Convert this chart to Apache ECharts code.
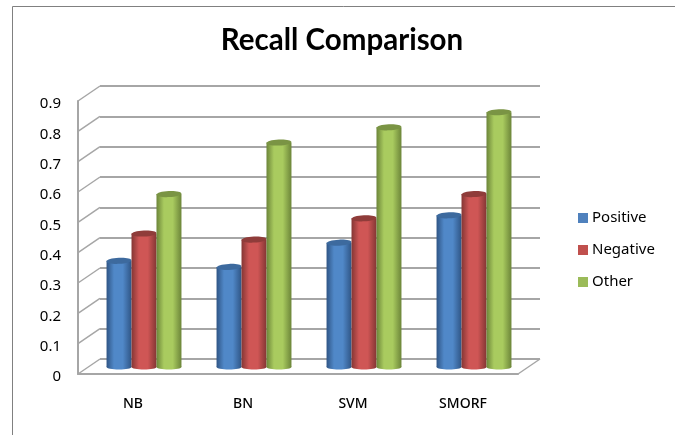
<!DOCTYPE html>
<html>
<head>
<meta charset="utf-8">
<style>
    html, body { margin: 0; padding: 0; background: #fff; }
    #chart { width: 681px; height: 435px; }
</style>
<script src="https://cdn.jsdelivr.net/npm/echarts@6/dist/echarts.min.js"></script>
</head>
<body>
<div id="chart"></div>
<script>
const categories = ['NB', 'BN', 'SVM', 'SMORF'];
const positive = [0.35, 0.33, 0.41, 0.50];
const negative = [0.44, 0.42, 0.49, 0.57];
const other = [0.57, 0.74, 0.79, 0.84];
const wallTicks = [0, 0.1, 0.2, 0.3, 0.4, 0.5, 0.6, 0.7, 0.8, 0.9];

const gridColor = '#a6a6a6';
const depthX = 22;
const depthY = 15;
const fontName = '"Noto Sans", sans-serif';

// dark edge, light middle, dark edge, and the darker lid of the cylinder
function cylinder(name, values, slot, edge, mid, lid, swatch) {
    return {
        name: name,
        type: 'custom',
        xAxisIndex: 2,
        yAxisIndex: 2,
        clip: false,
        z: 5 + slot,
        itemStyle: { color: swatch },
        encode: { x: 0, y: 1 },
        data: values.map((v, i) => [i, v]),
        renderItem: function(params, api) {
            let top = api.coord([api.value(0), api.value(1)]);
            let base = api.coord([api.value(0), 0]);
            let w = api.size([1, 0])[0] * 0.227;
            let cx = top[0] + slot * w;
            let fill = {
                type: 'linear', x: 0, y: 0, x2: 1, y2: 0,
                colorStops: [
                    { offset: 0, color: edge },
                    { offset: 0.3, color: mid },
                    { offset: 0.65, color: mid },
                    { offset: 1, color: edge }
                ]
            };
            return {
                type: 'group',
                children: [
                    { type: 'ellipse', shape: { cx: cx, cy: base[1], rx: w / 2, ry: 2.5 }, style: { fill: fill } },
                    { type: 'rect', shape: { x: cx - w / 2, y: top[1], width: w, height: base[1] - top[1] }, style: { fill: fill } },
                    { type: 'ellipse', x: cx, y: top[1], rotation: 0.05, shape: { cx: 0, cy: 0, rx: w / 2, ry: 3 }, style: { fill: lid } }
                ]
            };
        }
    };
}

let chart = echarts.init(document.getElementById('chart'));
chart.setOption({
    animation: false,
    backgroundColor: '#fff',
    title: {
        text: 'Recall Comparison',
        left: 337,
        top: 20,
        textAlign: 'center',
        textStyle: { fontFamily: 'Lato, sans-serif', fontSize: 29.5, fontWeight: 'bold', color: '#000' }
    },
    legend: {
        left: 578,
        top: 208,
        padding: 0,
        orient: 'vertical',
        icon: 'rect',
        itemWidth: 10,
        itemHeight: 10,
        itemGap: 12,
        data: ['Positive', 'Negative', 'Other'],
        textStyle: { fontFamily: fontName, fontSize: 15, color: '#000', padding: [0, 0, 0, -1], lineHeight: 20 }
    },
    // frame of the pasted picture
    graphic: [{
        type: 'polyline',
        shape: { points: [[12.5, 435], [12.5, 6.5], [675, 6.5]] },
        style: { stroke: '#808080', lineWidth: 1, fill: 'none' }
    }],
    grid: [
        { left: 78, top: 101, width: 440, height: 273 },  // front edge, carries the labels
        { left: 100, top: 86, width: 440, height: 273 },  // back wall
        { left: 89, top: 94, width: 440, height: 273 }    // plane the bars stand on
    ],
    xAxis: [
        {
            gridIndex: 0, type: 'category', data: categories,
            axisLine: { lineStyle: { color: gridColor, width: 2 } },
            axisTick: { show: false },
            axisLabel: { margin: 23, fontFamily: fontName, fontSize: 14, fontWeight: 500, color: '#000' }
        },
        { gridIndex: 1, type: 'category', data: categories, show: false },
        { gridIndex: 2, type: 'category', data: categories, show: false }
    ],
    yAxis: [
        {
            gridIndex: 0, type: 'value', min: 0, max: 0.9, interval: 0.1,
            axisLine: { show: true, lineStyle: { color: gridColor, width: 2 } },
            axisTick: { show: false },
            splitLine: { show: false },
            axisLabel: { margin: 17, fontFamily: fontName, fontSize: 15, color: '#000', verticalAlign: 'top', lineHeight: 6 }
        },
        {
            gridIndex: 1, type: 'value', min: 0, max: 0.9, interval: 0.1,
            axisLine: { show: false },
            axisTick: { show: false },
            axisLabel: { show: false },
            splitLine: { show: true, lineStyle: { color: gridColor, width: 2 } }
        },
        { gridIndex: 2, type: 'value', min: 0, max: 0.9, interval: 0.1, show: false, splitLine: { show: false } }
    ],
    series: [
        // side wall and floor connectors between front and back
        {
            type: 'custom',
            xAxisIndex: 1,
            yAxisIndex: 1,
            clip: false,
            silent: true,
            z: 3,
            encode: { y: 0 },
            data: wallTicks.map(v => [v]),
            renderItem: function(params, api) {
                let y = api.coord([0, api.value(0)])[1];
                let x = params.coordSys.x;
                let style = { stroke: gridColor, lineWidth: 1.5 };
                let kids = [{ type: 'line', shape: { x1: x - depthX, y1: y + depthY, x2: x, y2: y }, style: style }];
                if (api.value(0) === 0) {
                    let xr = x + params.coordSys.width;
                    kids.push({ type: 'line', shape: { x1: xr - depthX, y1: y + depthY, x2: xr, y2: y }, style: style });
                }
                return { type: 'group', children: kids };
            }
        },
        cylinder('Positive', positive, -1, '#2f5585', '#5088c8', '#3d6a9e', '#4f81bd'),
        cylinder('Negative', negative, 0, '#843634', '#cf5655', '#8f3c3a', '#c0504d'),
        cylinder('Other', other, 1, '#6c8539', '#a9cb5f', '#7a9444', '#9bbb59')
    ]
});
</script>
</body>
</html>
